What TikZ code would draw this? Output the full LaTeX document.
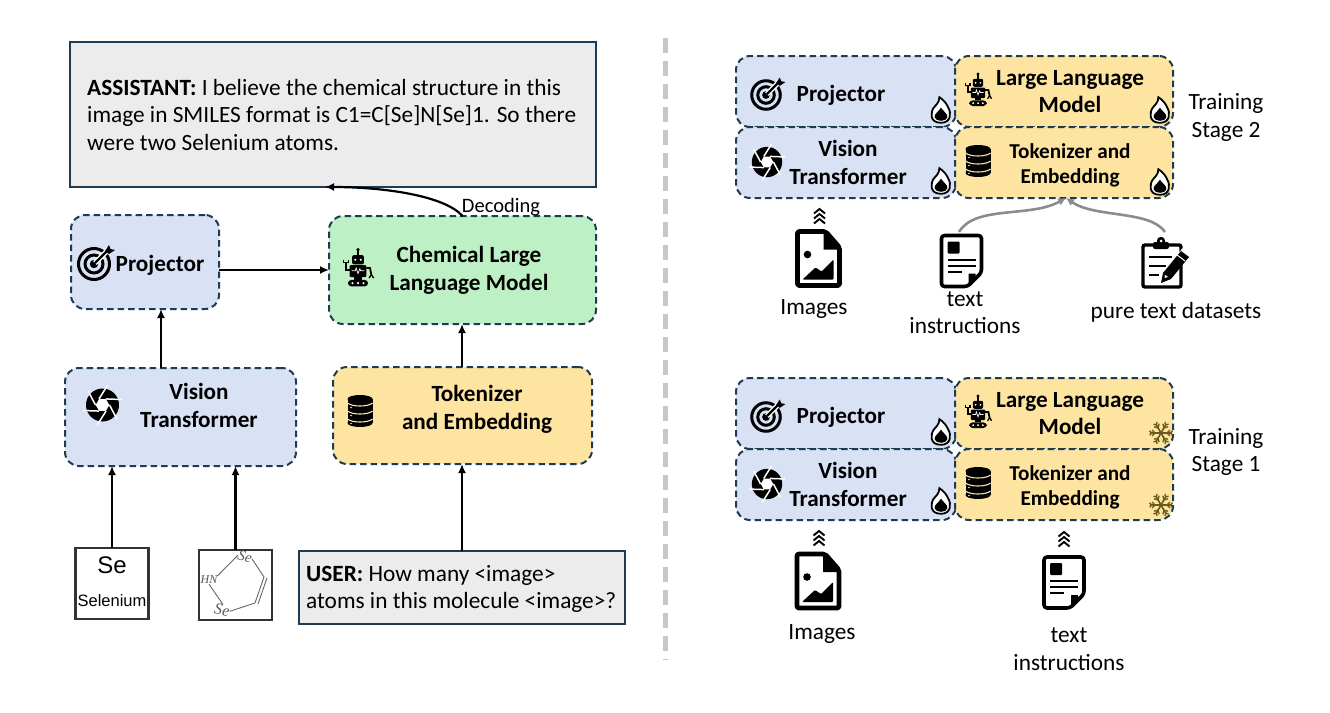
\documentclass[tikz,border=0pt]{standalone}
\usepackage{fontspec}
\setmainfont{Carlito}
\newfontfamily\arialf{Liberation Sans}
\newfontfamily\handf{Liberation Serif}
\usetikzlibrary{arrows.meta,calc}
\definecolor{dashc}{HTML}{1F3B54}
\definecolor{bluef}{HTML}{D9E1F5}
\definecolor{greenf}{HTML}{BDF0C4}
\definecolor{yellowf}{HTML}{FDE4A0}
\definecolor{grayf}{HTML}{ECECEC}
\definecolor{snowc}{HTML}{6B5A1A}
\newcommand{\fs}[2]{\fontsize{#1}{#2}\selectfont}
\tikzset{
 x=1pt,y=-1pt,
 dbox/.style={draw=dashc,line width=2pt,dash pattern=on 6.5pt off 4pt,rounded corners=14pt,inner sep=0pt,outer sep=0pt},
 gbox/.style={draw=dashc,line width=2pt,fill=grayf,inner sep=0pt,outer sep=0pt},
 imgbox/.style={draw=black!80,line width=2.6pt,fill=white,inner sep=0pt,outer sep=0pt,minimum width=73pt},
 arr/.style={line width=2.2pt,-{Latex[length=9pt,width=8pt]}},
 grayarr/.style={draw=black!45,line width=2.6pt,-{Latex[length=8pt,width=8pt]}},
 lab/.style={inner sep=0pt,align=center,text=black},
 blab/.style={lab,font=\fs{23.2}{28}\bfseries},
 blabs/.style={lab,font=\fs{21.2}{25}\bfseries},
 tlab/.style={lab,font=\fs{23.3}{27.5}},
 longtext/.style={inner sep=0pt,align=left,font=\fs{23.3}{27.3}},
 targeticon/.pic={
  \draw[line width=3pt] (0,0) circle (15.5);
  \draw[line width=3pt] (0,0) circle (9);
  \fill (0,0) circle (4.2);
  \draw[white,line width=5pt] (1,-1) -- (15,-15);
  \draw[line width=2.2pt] (1,-1) -- (15,-15);
  \fill (11,-13) -- (15,-19) -- (16.5,-15) -- (21,-14) -- (15,-10) -- cycle;
 },
 apertureicon/.pic={
  \fill (0,0) circle (16.5);
  \foreach \a in {0,60,...,300}{
   \draw[white,line width=1.5pt] ($(\a:7)$) -- ($(\a:7)+(\a+62:16)$);
  }
  \fill[white] (0:6.8) -- (60:6.8) -- (120:6.8) -- (180:6.8) -- (240:6.8) -- (300:6.8) -- cycle;
 },
 roboticon/.pic={
  \fill (0,-20) circle (2);
  \draw[line width=1.4pt] (0,-20) -- (0,-13);
  \fill[rounded corners=2pt] (-6.5,-14) rectangle (6.5,-4);
  \fill[white] (-3,-9) circle (1.2) (3,-9) circle (1.2);
  \fill[rounded corners=1pt] (-9,-3) rectangle (9,10);
  \draw[white,line width=.7pt] (-7,3) -- (-3,3) -- (-2,0) -- (0,6) -- (2,1) -- (3,3) -- (7,3);
  \draw[line width=1.8pt] (-9,2) -- (-13,2) -- (-13,-6);
  \draw[line width=1.3pt] (-16,-9) -- (-16,-6) -- (-10,-6) -- (-10,-9);
  \draw[line width=1.8pt] (9,0) -- (13,0) -- (14.5,7);
  \draw[line width=1.3pt] (12,11) -- (14.5,7) -- (17,11);
  \fill (-4,10) rectangle (4,13);
  \fill[rounded corners=3.5pt] (-11,13) rectangle (11,20);
  \fill[white] (-6,16.5) circle (1.3) (0,16.5) circle (1.3) (6,16.5) circle (1.3);
 },
 dbicon/.pic={
  \fill (-12.5,-12) rectangle (12.5,12);
  \fill (0,-12) ellipse (12.5 and 4);
  \fill (0,12) ellipse (12.5 and 4);
  \foreach \yy in {-7,1,9}{
   \draw[yellowf,line width=1.1pt] (-12.5,\yy-1) .. controls (-8,\yy+3) and (8,\yy+3) .. (12.5,\yy-1);
   \fill[yellowf] (-9,\yy+3.5) circle (.8);
  }
 },
 flameicon/.pic={
  \draw[fill=white,line width=1.8pt] (0,16) .. controls (-15,16) and (-13,2) .. (-9,-3)
    .. controls (-7,-6) and (-2,-9) .. (-2,-16) .. controls (4,-12) and (7,-8) .. (9,-3)
    .. controls (13,3) and (13,16) .. (0,16) -- cycle;
  \fill (0,-3) .. controls (2,1) and (9,5) .. (8,9) .. controls (7,15) and (-7,15) .. (-8,9)
    .. controls (-9,5) and (-2,1) .. (0,-3) -- cycle;
 },
 snowicon/.pic={
  \foreach \a in {0,60,...,300}{
   \draw[snowc,line width=1.6pt] (0,0) -- (\a:12.5);
   \draw[snowc,line width=1.3pt] (\a:7) -- ($(\a:7)+(\a+45:5)$);
   \draw[snowc,line width=1.3pt] (\a:7) -- ($(\a:7)+(\a-45:5)$);
   \draw[snowc,line width=1.3pt] (\a:11) -- ($(\a:11)+(\a+45:3.5)$);
   \draw[snowc,line width=1.3pt] (\a:11) -- ($(\a:11)+(\a-45:3.5)$);
  }
 },
 chevicon/.pic={
  \foreach \yy in {-6,-1,4}{
   \draw[line width=1.9pt] (-5.5,\yy+3.5) -- (0,\yy-1) -- (5.5,\yy+3.5);
  }
 },
 imagefileicon/.pic={
  \draw[line width=4.8pt,line join=round,rounded corners=2pt] (-21,-27) -- (7,-27) -- (21,-11) -- (21,27) -- (-21,27) -- cycle;
  \fill (5,-29) -- (23,-9) -- (5,-9) -- cycle;
  \fill (-11,-4) circle (3.8);
  \fill[rounded corners=1pt] (-16,21) -- (-3,9) -- (3,13) -- (15,1) -- (15,21) -- cycle;
 },
 docicon/.pic={
  \draw[line width=3.6pt,line join=round,rounded corners=3pt] (-20,-25) -- (20,-25) -- (20,12) -- (6,26) -- (-20,26) -- cycle;
  \fill[rounded corners=1pt] (-14,-19) rectangle (-2,-7);
  \draw[line width=2pt] (-14,-1) -- (14,-1) (-14,5) -- (14,5) (-14,11) -- (0,11);
  \fill (14,13) -- (14,16) -- (7,23) -- (7,13) -- cycle;
 },
 clipicon/.pic={
  \draw[line width=3.4pt,rounded corners=2pt] (-21,-18) rectangle (17,24);
  \fill[rounded corners=2pt] (-11,-21) rectangle (5,-14);
  \fill (-3,-22) circle (4.2);
  \fill[white] (-3,-22) circle (1.5);
  \draw[line width=2.4pt] (-15,-6) -- (8,-6) (-15,3) -- (2,3) (-15,12) -- (-5,12);
  \draw[white,line width=9pt] (0,15) -- (22,-12);
  \fill (-3,20) -- (-1,10) -- (17,-12) -- (25,-6) -- (7,16) -- cycle;
  \fill[white] (0.5,15) -- (1,12) -- (4,14) -- cycle;
  \draw[white,line width=1pt] (13,-8) -- (21,-2);
 },
}
\begin{document}
\begin{tikzpicture}
\useasboundingbox (0,0) rectangle (1330,712);
% divider
\coordinate (divtop) at (665,38);
\coordinate (divbot) at (665,660);
\draw[black!22,line width=5pt,dash pattern=on 15pt off 8pt] (divtop) -- (divbot);

% left panel
\node[gbox,minimum width=526pt,minimum height=145pt] (asst) at (333,114.5) {};
\node[longtext,anchor=west] (tasst) at (87,115) {\textbf{ASSISTANT:} I believe the chemical structure in this\\image in SMILES format is C1=C[Se]N[Se]1. So there\\were two Selenium atoms.};
\node[dbox,fill=bluef,minimum width=148pt,minimum height=94pt] (proj) at (145,262) {};
\node[dbox,fill=greenf,minimum width=267pt,minimum height=108pt] (llm) at (462.5,270) {};
\node[dbox,fill=bluef,minimum width=231pt,minimum height=98pt] (vit) at (180.5,417) {};
\node[dbox,fill=yellowf,minimum width=259pt,minimum height=97pt] (tok) at (462.5,415.5) {};
\node[imgbox,minimum height=71pt] (se) at (112,583.5) {};
\node[imgbox,minimum height=70pt] (mol) at (235.5,585) {};
\node[gbox,minimum width=326pt,minimum height=73pt] (user) at (462,587.5) {};
\node[longtext,anchor=west] (tuser) at (306,589) {\textbf{USER:} How many <image>\\atoms in this molecule <image>?};

\node[blab] (tproj) at (160,265) {Projector};
\node[blab] (tllm) at (469,270) {Chemical Large\\Language Model};
\node[blab] (tvit) at (199,405) {Vision\\Transformer};
\node[blab] (ttok) at (477,409) {Tokenizer\\and Embedding};
\node[lab,font=\fs{20.5}{24}] (tdec) at (501,207) {Decoding};
\node[lab,font=\arialf\fs{24}{28}] (tse) at (112,565) {Se};
\node[lab,font=\arialf\fs{16.5}{20}] (tsel) at (112,601) {Selenium};

\pic at (94,264) {targeticon};
\pic[scale=.92] at (358,268) {roboticon};
\pic at (102.5,405) {apertureicon};
\pic at (360,411) {dbicon};

% molecule sketch
\node[lab,font=\handf\itshape\fs{15}{18},text=black!65,rotate=-15] (m1) at (245,557) {Se};
\node[lab,font=\handf\itshape\fs{12}{14},text=black!65] (m2) at (209,580) {HN};
\node[lab,font=\handf\itshape\fs{16}{18},text=black!65,rotate=-10] (m3) at (222,610) {Se};
\coordinate (md1) at (264,577);
\coordinate (md2) at (255,603);
\draw[black!60,line width=.9pt] (m2.north east) -- (m1.west);
\draw[black!60,line width=.9pt] (m1.east) -- (md1);
\draw[black!60,line width=.9pt] (md1) -- (md2);
\draw[black!60,line width=.9pt] ($(md1)+(3,1)$) -- ($(md2)+(3,1)$);
\draw[black!60,line width=.9pt] (md2) -- (m3.east);
\draw[black!60,line width=.9pt] (m2.south) -- (m3.north);

% left connectors
\draw[arr] (se.north) -- (vit.south -| se.north);
\draw[arr] (mol.north) -- (vit.south -| mol.north);
\draw[arr] (user.north) -- (tok.south -| user.north);
\draw[arr] (tok.north -| user.north) -- (llm.south -| user.north);
\draw[arr] ([xshift=16pt]vit.north -| proj.south) -- ([xshift=16pt]proj.south);
\draw[arr] (proj.east |- llm.west) -- (llm.west);
\draw[arr] (llm.north) .. controls (445,196) and (385,187) .. ([xshift=-8pt]asst.south);

% right panel, stage 2
\node[dbox,fill=bluef,minimum width=220pt,minimum height=71pt] (p2) at (846,91.5) {};
\node[dbox,fill=bluef,minimum width=220pt,minimum height=71pt] (v2) at (846,162.5) {};
\node[dbox,fill=yellowf,minimum width=218pt,minimum height=71pt] (l2) at (1064,91.5) {};
\node[dbox,fill=yellowf,minimum width=218pt,minimum height=71pt] (e2) at (1064,162.5) {};
\node[blab] (tp2) at (841,95) {Projector};
\node[blab] (tv2) at (848,162) {Vision\\Transformer};
\node[blab,font=\fs{23.2}{27}\bfseries] (tl2) at (1070,92) {Large Language\\Model};
\node[blabs] (te2) at (1070,165.5) {Tokenizer and\\Embedding};
\node[tlab] (ts2) at (1226,117.5) {Training\\Stage 2};
\node[tlab] (ti2) at (814,309) {Images};
\node[tlab] (tt2) at (965,312.5) {text\\instructions};
\node[tlab] (tk2) at (1176,312) {pure text datasets};
\pic[scale=.92] at (766,95) {targeticon};
\pic[scale=.92] at (767,162) {apertureicon};
\pic[scale=.8] at (978,90) {roboticon};
\pic at (978,161) {dbicon};
\pic[scale=.8] at (941,110) {flameicon};
\pic[scale=.8] at (941,181) {flameicon};
\pic[scale=.8] at (1160,110) {flameicon};
\pic[scale=.8] at (1160,182) {flameicon};
\pic at (819.5,216) {chevicon};
\pic at (818.5,258.5) {imagefileicon};
\pic at (961.5,260.5) {docicon};
\pic at (1164,263) {clipicon};
\coordinate (g1) at (959,232);
\coordinate (g2) at (1165,232);
\draw[grayarr] (g1) .. controls (975,205) and (1030,218) .. ([xshift=2pt]e2.south);
\draw[grayarr] (g2) .. controls (1150,210) and (1095,218) .. ([xshift=2pt]e2.south);

% right panel, stage 1
\node[dbox,fill=bluef,minimum width=220pt,minimum height=71pt] (p1) at (846,413.5) {};
\node[dbox,fill=bluef,minimum width=220pt,minimum height=71pt] (v1) at (846,484.5) {};
\node[dbox,fill=yellowf,minimum width=218pt,minimum height=71pt] (l1) at (1064,413.5) {};
\node[dbox,fill=yellowf,minimum width=218pt,minimum height=71pt] (e1) at (1064,484.5) {};
\node[blab] (tp1) at (841,417) {Projector};
\node[blab] (tv1) at (848,484) {Vision\\Transformer};
\node[blab,font=\fs{23.2}{27}\bfseries] (tl1) at (1070,414) {Large Language\\Model};
\node[blabs] (te1) at (1070,487.5) {Tokenizer and\\Embedding};
\node[tlab] (ts1) at (1226,452) {Training\\Stage 1};
\node[tlab] (ti1) at (822,634) {Images};
\node[tlab,font=\fs{23.3}{28}] (tt1) at (1069,649.5) {text\\instructions};
\pic[scale=.92] at (766,417) {targeticon};
\pic[scale=.92] at (767,484) {apertureicon};
\pic[scale=.8] at (978,412) {roboticon};
\pic at (978,483) {dbicon};
\pic[scale=.8] at (941,432) {flameicon};
\pic[scale=.8] at (941,501) {flameicon};
\pic[scale=.85] at (1161,433) {snowicon};
\pic[scale=.85] at (1161,505) {snowicon};
\pic at (819,538) {chevicon};
\pic at (818,581) {imagefileicon};
\pic at (1064,539) {chevicon};
\pic at (1064,582) {docicon};
\end{tikzpicture}
\end{document}
